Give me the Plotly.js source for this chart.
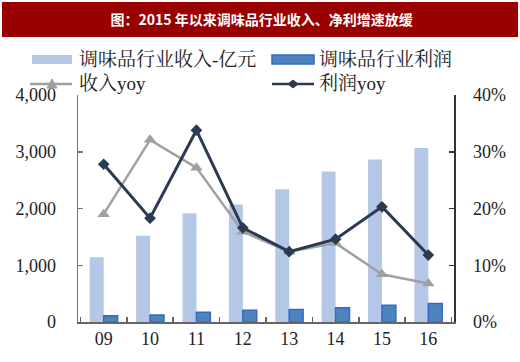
<!DOCTYPE html>
<html><head><meta charset="utf-8">
<script src="https://cdn.plot.ly/plotly-3.0.1.min.js"></script>
<style>html,body{margin:0;padding:0;background:#fff}#chart{width:520px;height:362px}</style>
</head><body><div id="chart"></div>
<script>
const years = ['09','10','11','12','13','14','15','16'];
const revenue = [1140, 1520, 1915, 2070, 2340, 2650, 2865, 3065];
const profit = [110, 125, 170, 205, 220, 250, 295, 325];
const revenueYoy = [0.190, 0.321, 0.272, 0.159, 0.124, 0.139, 0.084, 0.068];
const profitYoy = [0.278, 0.183, 0.338, 0.166, 0.124, 0.146, 0.203, 0.118];
const names = ['调味品行业收入-亿元', '调味品行业利润', '收入yoy', '利润yoy'];
const titleText = '图：2015 年以来调味品行业收入、净利增速放缓';

const L = 78, R = 454, T = 95, B = 322, W = 520, H = 362;
const px = x => (x - L) / (R - L);
const py = y => (B - y) / (B - T);

const cjk = '"Liberation Serif", "Noto Serif CJK SC", "Noto Sans CJK SC", serif';
const lightBlue = '#b4c7e7', darkFill = '#4e84bd', darkLine = '#3568c8';
const grey = '#a0a0a0', navy = '#2a3a52';

const traces = [
  {type:'bar', x:years, y:revenue, name:names[0], marker:{color:lightBlue}, showlegend:false, hoverinfo:'skip'},
  {type:'bar', x:years, y:profit, name:names[1], marker:{color:darkFill, line:{color:darkLine, width:1.5}}, showlegend:false, hoverinfo:'skip'},
  {type:'scatter', mode:'lines+markers', x:years, y:revenueYoy, yaxis:'y2', name:names[2], line:{color:grey, width:2.5}, marker:{symbol:'triangle-up', size:11, color:grey}, showlegend:false, hoverinfo:'skip'},
  {type:'scatter', mode:'lines+markers', x:years, y:profitYoy, yaxis:'y2', name:names[3], line:{color:navy, width:3}, marker:{symbol:'diamond', size:9, color:navy}, showlegend:false, hoverinfo:'skip'}
];

// legend drawn in paper coordinates
const shapes = [
  {type:'rect', xref:'paper', yref:'paper', x0:px(2), x1:px(518), y0:py(37), y1:py(2), fillcolor:'#990000', line:{width:0}, layer:'below'},
  {type:'rect', xref:'paper', yref:'paper', x0:px(32), x1:px(72), y0:py(64), y1:py(55), fillcolor:lightBlue, line:{width:0}},
  {type:'rect', xref:'paper', yref:'paper', x0:px(272), x1:px(314), y0:py(64), y1:py(55), fillcolor:darkFill, line:{color:darkLine, width:1.5}},
  {type:'line', xref:'paper', yref:'paper', x0:px(30), x1:px(72), y0:py(84), y1:py(84), line:{color:grey, width:2.5}},
  {type:'path', xref:'paper', yref:'paper', path:`M ${px(47)} ${py(88)} L ${px(57)} ${py(88)} L ${px(52)} ${py(79)} Z`, fillcolor:grey, line:{color:grey, width:1}},
  {type:'line', xref:'paper', yref:'paper', x0:px(272), x1:px(314), y0:py(84), y1:py(84), line:{color:navy, width:2.5}},
  {type:'path', xref:'paper', yref:'paper', path:`M ${px(288)} ${py(84)} L ${px(293)} ${py(80)} L ${px(298)} ${py(84)} L ${px(293)} ${py(88)} Z`, fillcolor:navy, line:{color:navy, width:1}}
];
const legFont = {family:cjk, size:19, color:'#222'};
const annotations = [
  {xref:'paper', yref:'paper', x:px(77), y:py(59), text:names[0], showarrow:false, xanchor:'left', yanchor:'middle', font:legFont},
  {xref:'paper', yref:'paper', x:px(317), y:py(59), text:names[1], showarrow:false, xanchor:'left', yanchor:'middle', font:legFont},
  {xref:'paper', yref:'paper', x:px(77), y:py(83), text:names[2], showarrow:false, xanchor:'left', yanchor:'middle', font:legFont},
  {xref:'paper', yref:'paper', x:px(317), y:py(83), text:names[3], showarrow:false, xanchor:'left', yanchor:'middle', font:legFont}
];

const tickFont = {family:'"Liberation Serif", "Times New Roman", serif', size:18, color:'#222'};
const layout = {
  width:W, height:H,
  margin:{l:L, r:W-R, t:T, b:H-B, pad:0},
  paper_bgcolor:'#fff', plot_bgcolor:'#fff',
  title:{text:'<b>'+titleText+'</b>', x:0.503, xanchor:'center', y:1-20/H, yanchor:'middle', yref:'container', font:{family:'"Noto Sans CJK SC", sans-serif', size:14, color:'#fff'}},
  barmode:'group', bargap:0.4, bargroupgap:0,
  showlegend:false,
  xaxis:{type:'category', showgrid:false, zeroline:false, showline:true, linecolor:'#666', linewidth:1.5,
         ticks:'inside', tickson:'boundaries', ticklen:5, tickcolor:'#666', tickwidth:1.5, tickfont:tickFont, ticklabelstandoff:0},
  yaxis:{range:[0,4000], dtick:1000, tickformat:',d', showgrid:false, zeroline:false, showline:true, linecolor:'#777', linewidth:1.5,
         ticks:'inside', ticklen:5, tickcolor:'#777', tickwidth:1.5, tickfont:tickFont, ticklabelstandoff:17},
  yaxis2:{overlaying:'y', side:'right', range:[0,0.4], dtick:0.1, tickformat:'.0%', showgrid:false, zeroline:false, showline:true, linecolor:'#333', linewidth:1.5,
          ticks:'inside', ticklen:5, tickcolor:'#333', tickwidth:1.5, tickfont:tickFont, ticklabelstandoff:14},
  shapes:shapes, annotations:annotations
};
Plotly.newPlot('chart', traces, layout, {displayModeBar:false, staticPlot:true});
</script></body></html>
